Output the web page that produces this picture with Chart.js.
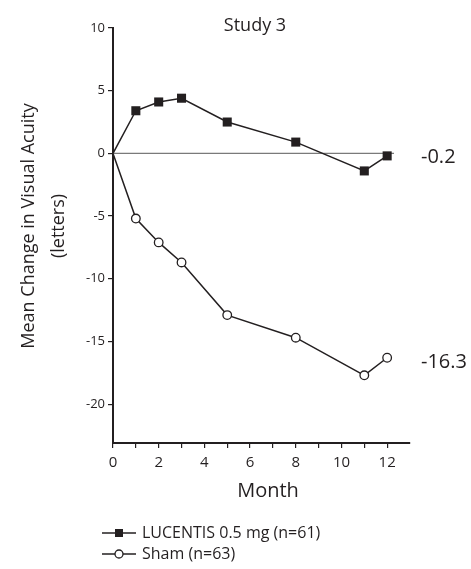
<!DOCTYPE html>
<html>
<head>
<meta charset="utf-8">
<script src="https://cdn.jsdelivr.net/npm/chart.js@4/dist/chart.umd.min.js"></script>
<style>
  html, body { margin: 0; padding: 0; background: #fff; }
  #wrap { width: 471px; height: 569px; position: relative; }
</style>
</head>
<body>
<div id="wrap"><canvas id="chart"></canvas></div>
<script>
'use strict'

// data
const months = [0, 1, 2, 3, 5, 8, 11, 12]
const lucentis = [0, 3.4, 4.1, 4.4, 2.5, 0.9, -1.4, -0.2]
const sham = [0, -5.2, -7.1, -8.7, -12.9, -14.7, -17.7, -16.3]
const seriesNames = ['LUCENTIS 0.5 mg (n=61)', 'Sham (n=63)']
const yTicks = [-20, -15, -10, -5, 0, 5, 10]
const xLabels = [0, 2, 4, 6, 8, 10, 12]

const INK = '#231f20'
const FONT = "'Open Sans', 'Noto Sans', sans-serif"

const toPoints = (vals) => months.map((m, i) => ({ x: m, y: vals[i] }))
// baseline (month 0) has no marker
const radii = (r) => months.map((m) => m === 0 ? 0 : r)

// text, zero line, end labels and legend
const extras = {
  id: 'extras',
  beforeDatasetsDraw (chart) {
    const ctx = chart.ctx
    const x = chart.scales.x
    const y = chart.scales.y
    ctx.save()
    ctx.strokeStyle = '#7a7a7a'
    ctx.lineWidth = 1.2
    ctx.beginPath()
    ctx.moveTo(x.getPixelForValue(0), y.getPixelForValue(0))
    ctx.lineTo(x.getPixelForValue(12.3), y.getPixelForValue(0))
    ctx.stroke()
    ctx.restore()
  },
  afterDraw (chart) {
    const ctx = chart.ctx
    const y = chart.scales.y
    ctx.save()
    ctx.fillStyle = INK
    ctx.textBaseline = 'middle'

    ctx.textAlign = 'center'
    ctx.font = '18px ' + FONT
    ctx.fillText('Study 3', 255, 26)

    ctx.font = '20px ' + FONT
    ctx.fillText('Month', 268, 491)

    // rotated y title
    ctx.save()
    ctx.translate(0, 226)
    ctx.rotate(-Math.PI / 2)
    ctx.font = '18px ' + FONT
    ctx.fillText('Mean Change in Visual Acuity', 0, 29)
    ctx.fillText('(letters)', 0, 59)
    ctx.restore()

    // end values
    ctx.textAlign = 'left'
    ctx.font = '20px ' + FONT
    const last = months.length - 1
    ctx.fillText(lucentis[last].toFixed(1), 421, y.getPixelForValue(lucentis[last]) + 1)
    ctx.fillText(sham[last].toFixed(1), 421, y.getPixelForValue(sham[last]) + 5)

    // legend
    ctx.font = '16px ' + FONT
    const rows = [533, 554]
    rows.forEach((ry, i) => {
      ctx.strokeStyle = INK
      ctx.lineWidth = 1.3
      ctx.beginPath()
      ctx.moveTo(102, ry)
      ctx.lineTo(136, ry)
      ctx.stroke()
      if (i === 0) {
        ctx.fillRect(115, ry - 4, 8, 8)
      } else {
        ctx.beginPath()
        ctx.arc(119, ry, 4, 0, Math.PI * 2)
        ctx.fillStyle = '#fff'
        ctx.fill()
        ctx.stroke()
        ctx.fillStyle = INK
      }
      ctx.fillText(seriesNames[i], 142, ry)
    })
    ctx.restore()
  }
}

const chart = new Chart(document.getElementById('chart'), {
  type: 'line',
  data: {
    datasets: [
      {
        label: seriesNames[0],
        data: toPoints(lucentis),
        borderColor: INK,
        borderWidth: 1.5,
        pointStyle: 'rect',
        pointRadius: radii(6.4),
        pointBackgroundColor: INK,
        pointBorderColor: INK,
        pointBorderWidth: 0,
        tension: 0
      },
      {
        label: seriesNames[1],
        data: toPoints(sham),
        borderColor: INK,
        borderWidth: 1.5,
        pointStyle: 'circle',
        pointRadius: radii(4.3),
        pointBackgroundColor: '#fff',
        pointBorderColor: INK,
        pointBorderWidth: 1.3,
        tension: 0
      }
    ]
  },
  options: {
    responsive: true,
    maintainAspectRatio: false,
    animation: false,
    layout: { padding: { top: 28, right: 61, left: 0, bottom: 0 } },
    plugins: {
      legend: { display: false },
      tooltip: { enabled: false }
    },
    scales: {
      x: {
        type: 'linear',
        min: 0,
        max: 13,
        afterFit: (scale) => { scale.height = 126 },
        afterBuildTicks: (scale) => {
          const t = []
          for (let v = 0; v <= 12; v++) t.push({ value: v })
          scale.ticks = t
        },
        border: { color: INK, width: 2 },
        grid: { drawOnChartArea: false, tickLength: 5, color: INK, lineWidth: 1.2 },
        ticks: {
          color: INK,
          padding: 6,
          maxRotation: 0,
          autoSkip: false,
          font: { family: FONT, size: 15 },
          callback: (v) => xLabels.includes(v) ? String(v) : ''
        }
      },
      y: {
        min: -23.1,
        max: 10,
        afterFit: (scale) => { scale.width = 113 },
        afterBuildTicks: (scale) => {
          scale.ticks = yTicks.map((v) => ({ value: v }))
        },
        border: { color: INK, width: 2 },
        grid: { drawOnChartArea: false, tickLength: 5, color: INK, lineWidth: 1.2 },
        ticks: {
          color: INK,
          padding: 3,
          font: { family: FONT, size: 13 }
        }
      }
    }
  },
  plugins: [extras]
})
</script>
</body>
</html>
